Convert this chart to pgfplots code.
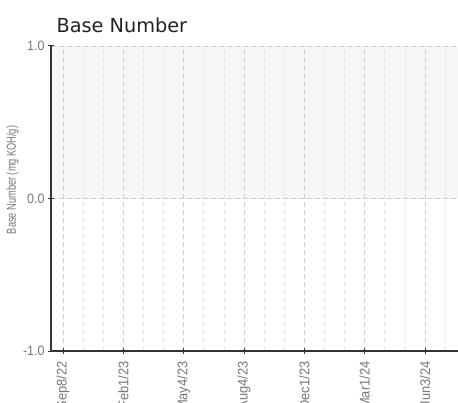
\documentclass[border=0pt]{standalone}
\usepackage{pgfplots}
\pgfplotsset{compat=1.18}
\usepackage{fontspec}
\setmainfont{Liberation Sans}
\newfontfamily\narrowfont[FakeStretch=0.92]{Liberation Sans}
\newfontfamily\slimfont[FakeStretch=0.71]{Liberation Sans}
\newfontfamily\titlefont{DejaVu Sans}
\definecolor{axisgray}{HTML}{333333}
\definecolor{gridmajor}{HTML}{CFCFCF}
\definecolor{gridminor}{HTML}{E6E6E6}
\definecolor{bandgray}{HTML}{F7F7F7}
\definecolor{labelgray}{HTML}{777777}
\definecolor{titlecolor}{HTML}{222222}
\newcommand{\lblfont}{\narrowfont\fontsize{14}{15}\selectfont}

\begin{document}
\begin{tikzpicture}
\begin{axis}[
  set layers,
  scale only axis,
  width=407pt, height=305pt,
  xmin=-0.2, xmax=6.546,
  ymin=-1, ymax=1,
  axis x line=bottom, axis y line=left,
  axis line style={-, draw=axisgray, line width=1.2pt},
  xtick={0,1,2,3,4,5,6},
  xticklabels={Sep8/22,Feb1/23,May4/23,Aug4/23,Dec1/23,Mar1/24,Jun3/24},
  minor xtick={0.3333,0.6667,1.3333,1.6667,2.3333,2.6667,3.3333,3.6667,4.3333,4.6667,5.3333,5.6667,6.3333},
  ytick={-1,0,1},
  yticklabels={-1.0,0.0,1.0},
  tick align=center,
  major tick length=6pt,
  minor tick length=0pt,
  tick style={draw=axisgray, line width=1pt},
  xmajorgrids, xminorgrids, ymajorgrids,
  major grid style={draw=gridmajor, dash pattern=on 5pt off 3pt, line width=0.8pt},
  minor grid style={draw=gridminor, dash pattern=on 5pt off 3pt, line width=0.8pt},
  xticklabel shift=4pt,
  xticklabel style={rotate=90, anchor=east, font=\lblfont, text=labelgray},
  yticklabel style={font=\narrowfont\fontsize{13.5}{14}\selectfont, text=labelgray},
  ylabel={Base Number (mg KOH/g)},
  ylabel style={at={(axis description cs:-0.0946,0.561)}, anchor=center, font=\slimfont\fontsize{13}{14}\selectfont, text=labelgray},
  title={Base Number},
  title style={at={(axis description cs:0.0049,1.0244)}, anchor=base west, font=\titlefont\fontsize{19.3}{21}\selectfont, text=titlecolor},
]
\addplot[draw=none, fill=bandgray, on layer=axis background]
  coordinates {(-0.2,0) (6.546,0) (6.546,1) (-0.2,1)} -- cycle;
\end{axis}
\pgfresetboundingbox
\path[use as bounding box] ([shift={(-51pt,-51pt)}]current axis.south west)
  rectangle ([shift={(407pt,351pt)}]current axis.south west);
\end{tikzpicture}
\end{document}
